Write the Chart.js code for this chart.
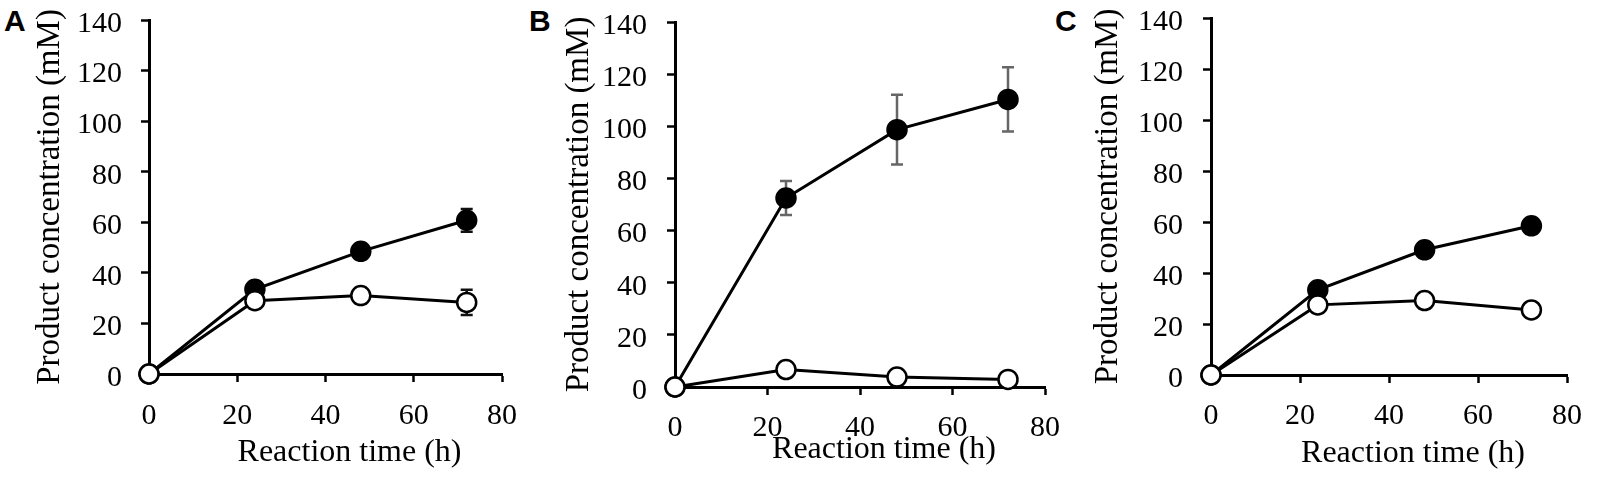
<!DOCTYPE html>
<html>
<head>
<meta charset="utf-8">
<script src="https://cdn.jsdelivr.net/npm/chart.js@4/dist/chart.umd.min.js"></script>
<style>
  body { margin: 0; background: #fff; width: 1604px; height: 487px; position: relative; overflow: hidden; }
  canvas { position: absolute; top: 0; }
  .tag { position: absolute; top: 4px; font: bold 30px "Liberation Sans", Arial, sans-serif; color: #000; }
</style>
</head>
<body>
<div class="tag" style="left:4px">A</div>
<div class="tag" style="left:529px">B</div>
<div class="tag" style="left:1055px">C</div>
<canvas id="chartA" width="520" height="487" style="left:0px"></canvas>
<canvas id="chartB" width="550" height="487" style="left:520px"></canvas>
<canvas id="chartC" width="534" height="487" style="left:1070px"></canvas>
<script>
// ── data (reaction time in h, product in mM) ──
const times = [0, 24, 48, 72];
const xTicks = [0, 20, 40, 60, 80];
const yTicks = [0, 20, 40, 60, 80, 100, 120, 140];

const filledA = [0, 33.5, 48.5, 60.8];
const filledErrA = [0, 1.5, 2, 4.5];
const openA = [0, 29, 31, 28.3];
const openErrA = [0, 1.5, 3, 5];

const filledB = [0, 72.5, 98.7, 110.3];
const filledErrB = [0, 6.5, 13.4, 12.3];
const openB = [0, 6.7, 3.8, 2.9];
const openErrB = [0, 1, 1, 1];

const filledC = [0, 33.4, 49.1, 58.5];
const filledErrC = [0, 1, 1, 1.5];
const openC = [0, 27.5, 29.2, 25.5];
const openErrC = [0, 1, 1, 1];

const SERIF = "'Liberation Serif', 'Times New Roman', serif";

// error bars drawn under the markers, through the chart scales
const errorBars = {
  id: 'errorBars',
  beforeDatasetsDraw(chart) {
    const ctx = chart.ctx;
    const yScale = chart.scales.y;
    chart.data.datasets.forEach((ds, i) => {
      if (!ds.errors) return;
      const meta = chart.getDatasetMeta(i);
      ctx.save();
      ctx.strokeStyle = ds.errorColor || '#000';
      ctx.lineWidth = 2.5;
      meta.data.forEach((pt, j) => {
        const e = ds.errors[j];
        if (!e) return;
        const v = ds.data[j].y;
        const top = yScale.getPixelForValue(v + e);
        const bot = yScale.getPixelForValue(v - e);
        ctx.beginPath();
        ctx.moveTo(pt.x, top); ctx.lineTo(pt.x, bot);
        ctx.moveTo(pt.x - 6, top); ctx.lineTo(pt.x + 6, top);
        ctx.moveTo(pt.x - 6, bot); ctx.lineTo(pt.x + 6, bot);
        ctx.stroke();
      });
      ctx.restore();
    });
  }
};

function series(vals, errs, filled, errColor) {
  return {
    data: times.map((t, i) => ({ x: t, y: vals[i] })),
    errors: errs,
    errorColor: errColor,
    borderColor: '#000',
    borderWidth: 3,
    pointRadius: 9.5,
    pointBorderWidth: 2.5,
    pointBackgroundColor: filled ? '#000' : '#fff',
    pointBorderColor: '#000',
    fill: false,
    tension: 0,
    clip: false,
    order: filled ? 1 : 0
  };
}

function makePanel(id, filled, filledErr, open, openErr, cfg) {
  new Chart(document.getElementById(id), {
    type: 'line',
    data: {
      datasets: [
        series(filled, filledErr, true, cfg.errColor),
        series(open, openErr, false, cfg.errColor)
      ]
    },
    plugins: [errorBars],
    options: {
      responsive: false,
      animation: false,
      events: [],
      layout: { padding: { left: 0, top: cfg.top, right: cfg.right, bottom: 0 } },
      plugins: { legend: { display: false }, tooltip: { enabled: false } },
      scales: {
        x: {
          type: 'linear', min: 0, max: 80,
          afterBuildTicks: s => { s.ticks = xTicks.map(v => ({ value: v })); },
          afterFit: s => { s.height = cfg.xHeight; s.paddingLeft = 0; s.paddingRight = 0; },
          ticks: { color: '#000', padding: cfg.xPad, font: { family: SERIF, size: 30 } },
          grid: { drawOnChartArea: false, drawTicks: true, tickLength: 8, tickWidth: 2.5, tickColor: '#000' },
          border: { color: '#000', width: 3 },
          title: {
            display: true, text: '\u2002\u2002\u2002Reaction time (h)', color: '#000',
            font: { family: SERIF, size: 32 }, padding: { top: 0, bottom: cfg.xTitlePad }
          }
        },
        y: {
          min: 0, max: 140,
          afterBuildTicks: s => { s.ticks = yTicks.map(v => ({ value: v })); },
          afterFit: s => { s.width = cfg.yWidth; s.paddingTop = 0; s.paddingBottom = 0; },
          ticks: { color: '#000', padding: cfg.yPad, labelOffset: 4, font: { family: SERIF, size: 30 } },
          grid: { drawOnChartArea: false, drawTicks: true, tickLength: 8, tickWidth: 2.5, tickColor: '#000' },
          border: { color: '#000', width: 3 },
          title: {
            display: true, text: 'Product concentration (mM)', color: '#000',
            font: { family: SERIF, size: 33 }, padding: { top: cfg.yTitlePad, bottom: 0 }
          }
        }
      }
    }
  });
}

makePanel('chartA', filledA, filledErrA, openA, openErrA,
  { top: 20, right: 18, xHeight: 113, yWidth: 149, xPad: 16, yPad: 19, xTitlePad: 15, yTitlePad: 31, errColor: '#111' });
makePanel('chartB', filledB, filledErrB, openB, openErrB,
  { top: 22, right: 25, xHeight: 100, yWidth: 155, xPad: 15, yPad: 20, xTitlePad: 18, yTitlePad: 40, errColor: '#666' });
makePanel('chartC', filledC, filledErrC, openC, openErrC,
  { top: 18, right: 37, xHeight: 112, yWidth: 141, xPad: 15, yPad: 20, xTitlePad: 14, yTitlePad: 19, errColor: '#111' });
</script>
</body>
</html>
